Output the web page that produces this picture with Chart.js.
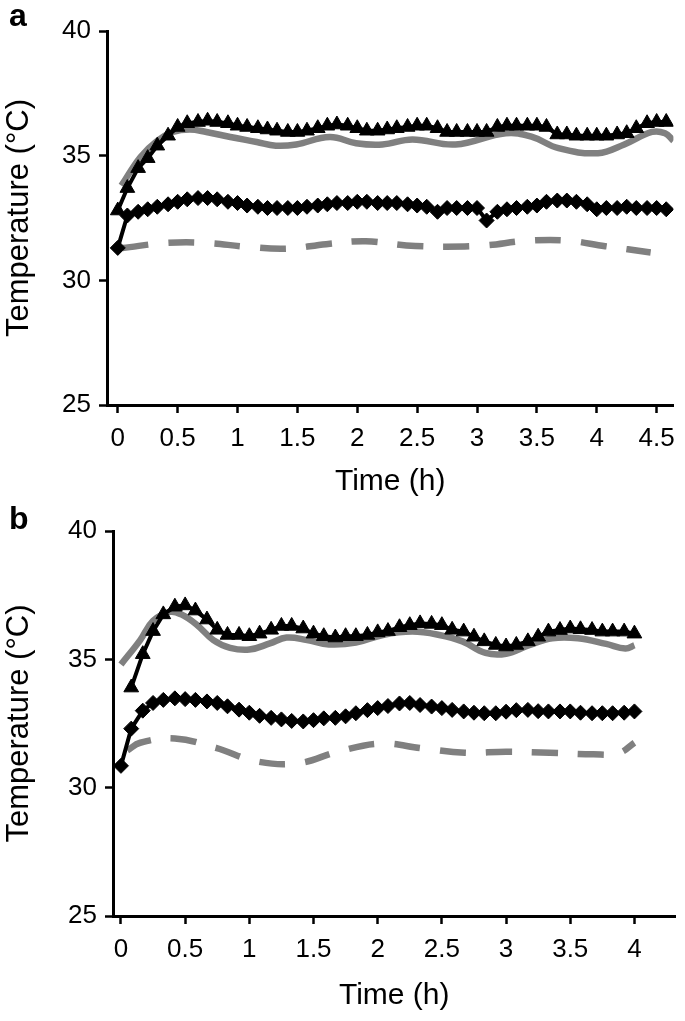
<!DOCTYPE html>
<html>
<head>
<meta charset="utf-8">
<script src="https://cdn.jsdelivr.net/npm/chart.js@4"></script>
<style>
  body { margin: 0; background: #fff; }
  .panel { position: absolute; left: 0; width: 685px; }
  .tag { position: absolute; left: 9px; font: bold 32px "Liberation Sans", Arial, sans-serif; color: #000; }
</style>
</head>
<body>
<div class="panel" style="top:0;height:505px"><canvas id="chartA" width="685" height="505"></canvas></div>
<div class="panel" style="top:505px;height:516px"><canvas id="chartB" width="685" height="516"></canvas></div>
<div class="tag" style="top:-3px">a</div>
<div class="tag" style="top:500px">b</div>
<script>
// shared tick labels
const yTicks = [25, 30, 35, 40];
const xTicksA = [0, 0.5, 1, 1.5, 2, 2.5, 3, 3.5, 4, 4.5];
const xTicksB = [0, 0.5, 1, 1.5, 2, 2.5, 3, 3.5, 4];

// panel a - marker series (5 min readings)
const timeA = [0, 0.08, 0.17, 0.25, 0.33, 0.42, 0.5, 0.58, 0.67, 0.75, 0.83, 0.92, 1, 1.08, 1.17, 1.25,
  1.33, 1.42, 1.5, 1.58, 1.67, 1.75, 1.83, 1.92, 2, 2.08, 2.17, 2.25, 2.33, 2.42, 2.5, 2.58, 2.67, 2.75,
  2.83, 2.92, 3, 3.08, 3.17, 3.25, 3.33, 3.42, 3.5, 3.58, 3.67, 3.75, 3.83, 3.92, 4, 4.08, 4.17, 4.25,
  4.33, 4.42, 4.5, 4.58];
const triA = [32.8, 33.7, 34.5, 34.9, 35.4, 35.8, 36.15, 36.3, 36.35, 36.4, 36.35, 36.3, 36.2, 36.15, 36.1,
  36.05, 36.0, 35.95, 35.95, 36.0, 36.1, 36.2, 36.25, 36.2, 36.1, 36.0, 36.0, 36.05, 36.1, 36.15, 36.2,
  36.2, 36.1, 35.95, 35.95, 35.95, 35.95, 35.95, 36.15, 36.2, 36.2, 36.2, 36.2, 36.15, 35.85, 35.85, 35.8,
  35.8, 35.8, 35.8, 35.85, 35.9, 36.1, 36.3, 36.35, 36.35];
const diaA = [31.3, 32.6, 32.75, 32.85, 32.95, 33.05, 33.15, 33.25, 33.3, 33.3, 33.25, 33.15, 33.1, 33.0,
  32.95, 32.9, 32.9, 32.9, 32.9, 32.95, 33.0, 33.05, 33.1, 33.1, 33.15, 33.15, 33.1, 33.1, 33.1, 33.05,
  33.0, 32.95, 32.75, 32.9, 32.9, 32.9, 32.9, 32.4, 32.75, 32.85, 32.9, 32.95, 33.0, 33.15, 33.2, 33.2,
  33.15, 33.05, 32.85, 32.9, 32.9, 32.95, 32.9, 32.9, 32.9, 32.85];

// panel a - gray curves
const graySolidTimeA = [0.03, 0.19, 0.33, 0.46, 0.6, 0.74, 0.94, 1.16, 1.32, 1.49, 1.77, 1.99, 2.21, 2.46,
  2.82, 3.24, 3.46, 3.68, 4.01, 4.23, 4.46, 4.57, 4.64];
const graySolidA = [33.8, 34.95, 35.6, 35.95, 36.05, 35.95, 35.75, 35.55, 35.4, 35.45, 35.75, 35.5, 35.45,
  35.65, 35.45, 35.9, 35.75, 35.3, 35.1, 35.45, 35.95, 35.9, 35.6];
const grayDashTimeA = [0.04, 0.41, 0.74, 1.07, 1.41, 1.74, 2.07, 2.41, 2.74, 3.07, 3.4, 3.74, 4.07, 4.45];
const grayDashA = [31.3, 31.5, 31.5, 31.35, 31.27, 31.45, 31.57, 31.4, 31.35, 31.4, 31.58, 31.6, 31.37, 31.12];

// panel b - marker series
const timeB = [0, 0.08, 0.17, 0.25, 0.33, 0.42, 0.5, 0.58, 0.67, 0.75, 0.83, 0.92, 1, 1.08, 1.17, 1.25,
  1.33, 1.42, 1.5, 1.58, 1.67, 1.75, 1.83, 1.92, 2, 2.08, 2.17, 2.25, 2.33, 2.42, 2.5, 2.58, 2.67, 2.75,
  2.83, 2.92, 3, 3.08, 3.17, 3.25, 3.33, 3.42, 3.5, 3.58, 3.67, 3.75, 3.83, 3.92, 4];
const triB = [null, 33.9, 35.2, 36.1, 36.75, 37.05, 37.1, 36.9, 36.55, 36.15, 35.95, 35.95, 35.9, 36.0,
  36.15, 36.3, 36.3, 36.2, 36.0, 35.9, 35.85, 35.9, 35.9, 35.95, 36.05, 36.1, 36.25, 36.33, 36.4, 36.38,
  36.33, 36.15, 36.08, 35.88, 35.7, 35.56, 35.5, 35.56, 35.7, 35.88, 36.08, 36.14, 36.2, 36.17, 36.14,
  36.08, 36.08, 36.08, 36.0];
const diaB = [30.85, 32.3, 33.0, 33.3, 33.42, 33.48, 33.45, 33.42, 33.36, 33.3, 33.17, 33.04, 32.92, 32.8,
  32.72, 32.66, 32.6, 32.58, 32.63, 32.7, 32.72, 32.78, 32.9, 33.02, 33.1, 33.18, 33.28, 33.3, 33.22,
  33.16, 33.1, 33.03, 32.97, 32.92, 32.9, 32.9, 32.96, 33.02, 33.03, 32.98, 32.97, 32.97, 32.97, 32.92,
  32.9, 32.9, 32.9, 32.92, 32.97];

// panel b - gray curves
const graySolidTimeB = [0, 0.15, 0.25, 0.38, 0.47, 0.59, 0.72, 0.85, 1, 1.16, 1.29, 1.45, 1.62, 1.83, 2.04,
  2.27, 2.48, 2.66, 2.84, 3, 3.18, 3.36, 3.56, 3.78, 3.93, 4];
const graySolidB = [34.8, 35.75, 36.5, 36.85, 36.75, 36.35, 35.75, 35.45, 35.38, 35.62, 35.85, 35.75, 35.58,
  35.65, 35.95, 36.08, 35.95, 35.7, 35.25, 35.22, 35.55, 35.82, 35.82, 35.6, 35.42, 35.55];
const grayDashTimeB = [0.05, 0.15, 0.42, 0.74, 1.06, 1.38, 1.69, 2.02, 2.35, 2.68, 3, 3.34, 3.68, 3.88, 4];
const grayDashB = [31.45, 31.75, 31.92, 31.55, 31.02, 30.95, 31.4, 31.72, 31.53, 31.36, 31.4, 31.36, 31.3,
  31.35, 31.75];

const FONT = "'Liberation Sans', Arial, Helvetica, sans-serif";
const GRAY = '#808080';

function pairs(xs, ys) {
  return xs.map((x, i) => ({ x: x, y: ys[i] }));
}

function buildPanel(canvasId, p) {
  const axisCommon = {
    grid: { drawOnChartArea: false, drawTicks: true, tickLength: 8, tickWidth: 2.5, tickColor: '#000' },
    border: { display: true, color: '#000', width: 3 }
  };
  new Chart(document.getElementById(canvasId), {
    type: 'line',
    data: {
      datasets: [
        {
          data: pairs(p.time, p.tri), borderColor: '#000', borderWidth: 4, tension: 0,
          pointStyle: 'triangle', pointRadius: 8.5, pointBackgroundColor: '#000',
          pointBorderColor: '#000', pointBorderWidth: 1, order: 0
        },
        {
          data: pairs(p.time, p.dia), borderColor: '#000', borderWidth: 4, tension: 0,
          pointStyle: 'rectRot', pointRadius: 7.5, pointBackgroundColor: '#000',
          pointBorderColor: '#000', pointBorderWidth: 1, order: 1
        },
        {
          data: pairs(p.solidTime, p.solid), borderColor: GRAY, borderWidth: 6.5,
          tension: 0.4, pointRadius: 0, order: 2
        },
        {
          data: pairs(p.dashTime, p.dash), borderColor: GRAY, borderWidth: 6.5, borderDash: [26, 20],
          tension: 0.4, pointRadius: 0, order: 3
        }
      ]
    },
    options: {
      responsive: false,
      animation: false,
      spanGaps: true,
      layout: { padding: { top: p.padTop, right: 9, left: 0, bottom: 0 } },
      plugins: { legend: { display: false }, tooltip: { enabled: false } },
      scales: {
        x: Object.assign({}, axisCommon, {
          type: 'linear',
          min: p.xMin,
          max: p.xMax,
          afterBuildTicks: s => { s.ticks = p.xTicks.map(v => ({ value: v })); },
          afterFit: s => { s.height = p.xAxisHeight; },
          ticks: { callback: v => String(v), color: '#000', font: { family: FONT, size: 26 }, padding: 10, maxRotation: 0, autoSkip: false },
          title: { display: true, text: 'Time (h)', color: '#000', font: { family: FONT, size: 30 }, padding: { top: 0, bottom: p.titlePad } }
        }),
        y: Object.assign({}, axisCommon, {
          min: 25,
          max: 40,
          afterBuildTicks: s => { s.ticks = yTicks.map(v => ({ value: v })); },
          afterFit: s => { s.width = p.yAxisWidth; },
          ticks: { color: '#000', font: { family: FONT, size: 26 }, padding: 8 },
          title: { display: true, text: 'Temperature (°C)', color: '#000', font: { family: FONT, size: 31 }, padding: { top: 1, bottom: 0 } }
        })
      }
    }
  });
}

buildPanel('chartA', {
  time: timeA, tri: triA, dia: diaA,
  solidTime: graySolidTimeA, solid: graySolidA,
  dashTime: grayDashTimeA, dash: grayDashA,
  xTicks: xTicksA, xMin: -0.09, xMax: 4.64,
  padTop: 31, xAxisHeight: 100, yAxisWidth: 107, titlePad: 5
});

buildPanel('chartB', {
  time: timeB, tri: triB, dia: diaB,
  solidTime: graySolidTimeB, solid: graySolidB,
  dashTime: grayDashTimeB, dash: grayDashB,
  xTicks: xTicksB, xMin: -0.062, xMax: 4.32,
  padTop: 26, xAxisHeight: 105, yAxisWidth: 113, titlePad: 7
});
</script>
</body>
</html>
